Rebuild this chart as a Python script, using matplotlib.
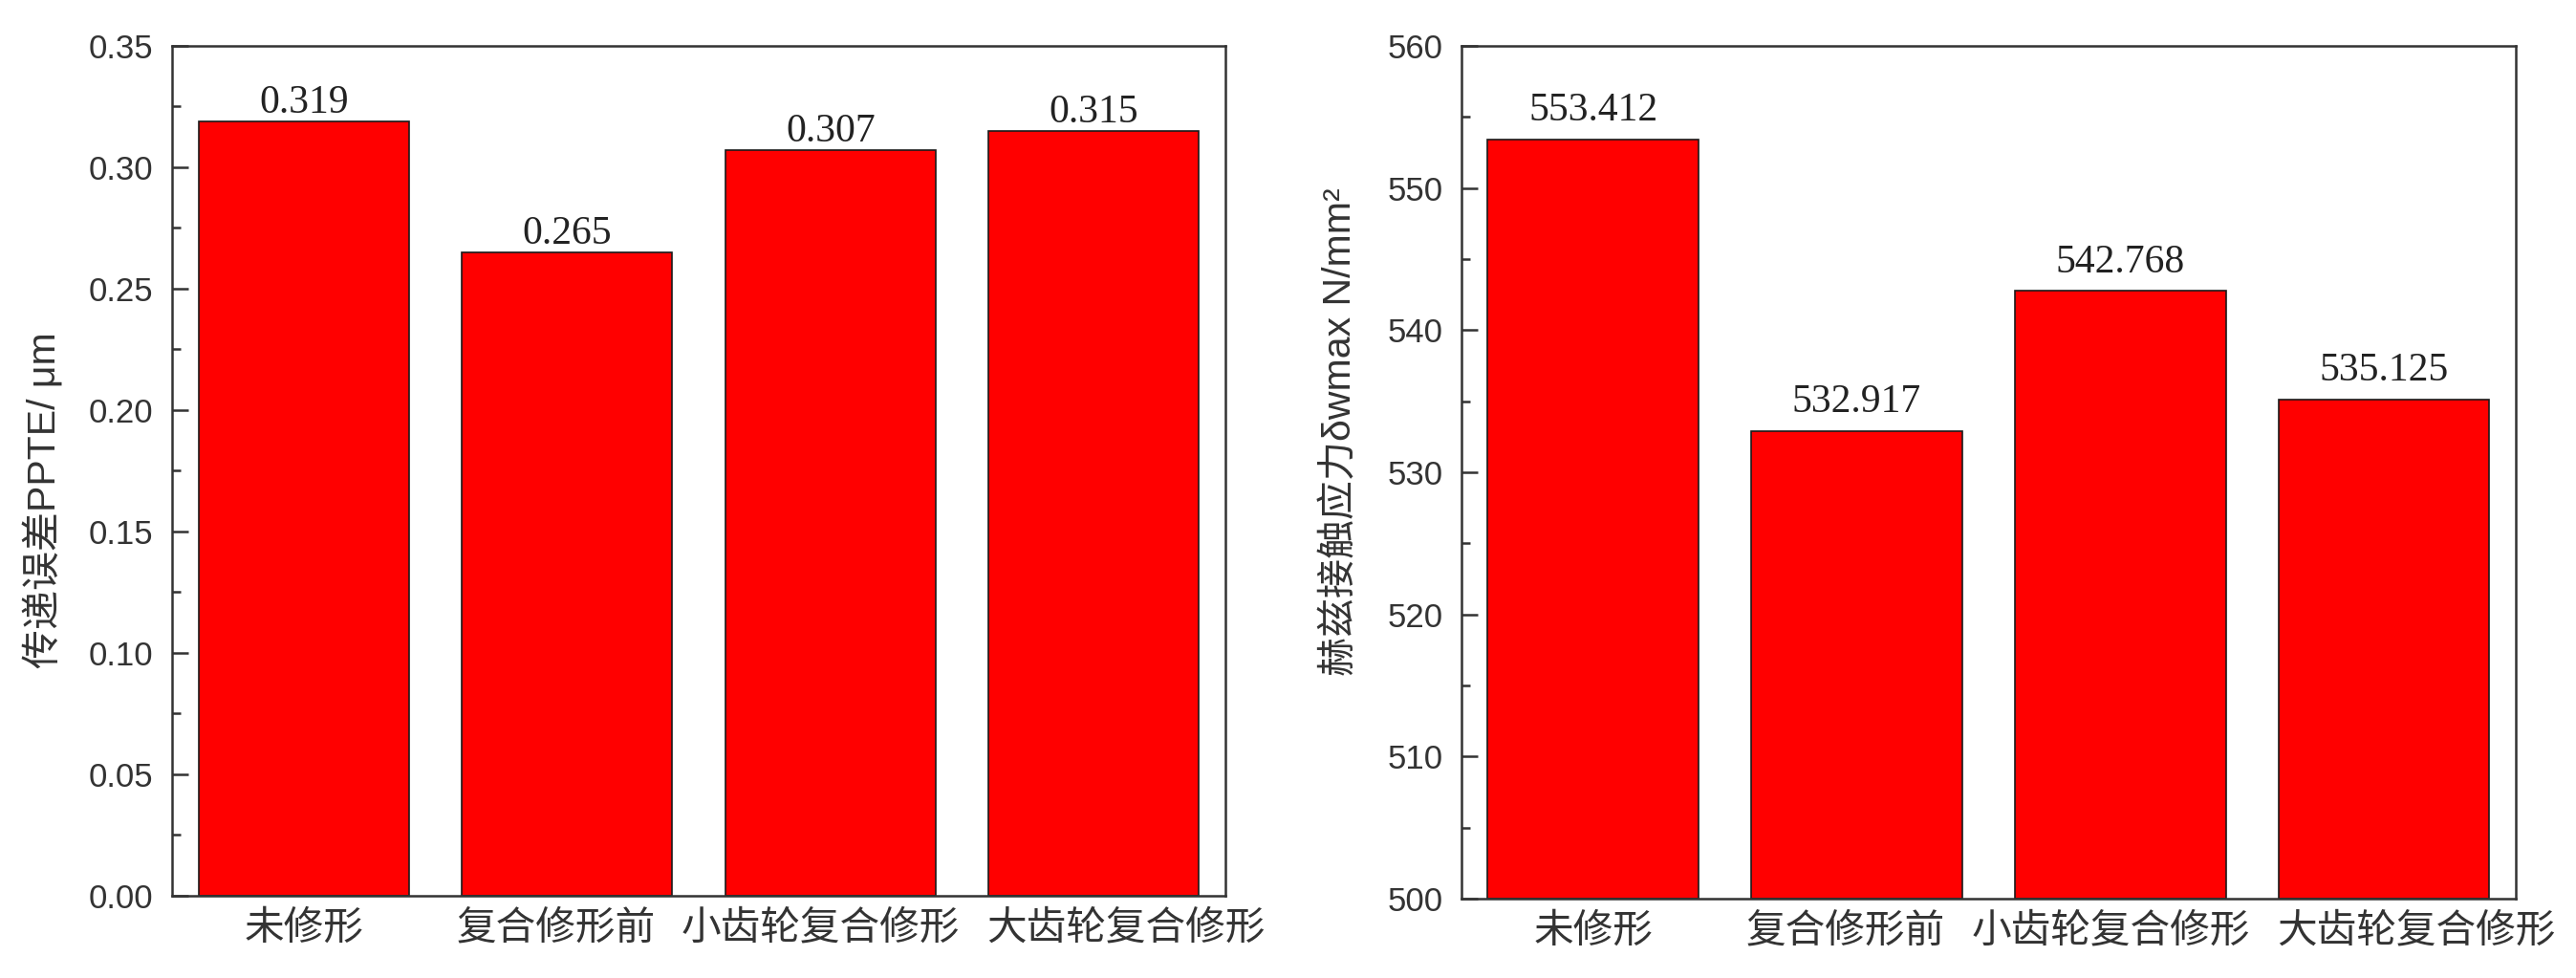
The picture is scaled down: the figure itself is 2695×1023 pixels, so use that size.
import matplotlib
matplotlib.use("Agg")
import matplotlib.pyplot as plt
import matplotlib.transforms as mtransforms
from matplotlib.ticker import MultipleLocator
import numpy as np

# ---- data ----
categories = ['未修形', '复合修形前', '小齿轮复合修形', '大齿轮复合修形']
ppte_values = [0.319, 0.265, 0.307, 0.315]
stress_values = [553.412, 532.917, 542.768, 535.125]

ppte_ylabel = '传递误差PPTE/ μm'
stress_ylabel = '赫兹接触应力δwmax N/mm²'

# ---- style ----
SANS = ['Liberation Sans', 'Noto Sans CJK SC', 'DejaVu Sans']
CJK = ['Noto Sans CJK SC', 'DejaVu Sans']
SERIF = ['Liberation Serif', 'DejaVu Serif']
AX_COLOR = '#333333'
label_shift_px = [0, -12, -10, 34]   # small nudges so long labels don't collide

fig = plt.figure(figsize=(26.95, 10.23), dpi=100)
ax1 = fig.add_axes([0.0668, 0.0841, 0.4089, 0.869])
ax2 = fig.add_axes([0.5673, 0.0811, 0.4093, 0.872])


def draw_panel(ax, values, ylim, major, minor, fmt, ylabel, val_offset, label_xy):
    x = np.arange(len(categories))
    ax.bar(x, np.array(values) - ylim[0], bottom=ylim[0], width=0.8,
           color='#ff0000', edgecolor='#1a1a1a', linewidth=1.2, zorder=2)
    ax.set_xlim(-0.5, len(categories) - 0.5)
    ax.set_ylim(*ylim)
    ax.yaxis.set_major_locator(MultipleLocator(major))
    ax.yaxis.set_minor_locator(MultipleLocator(minor))
    ax.yaxis.set_major_formatter(plt.FormatStrFormatter(fmt))

    for s in ax.spines.values():
        s.set_color(AX_COLOR)
        s.set_linewidth(1.8)

    ax.tick_params(axis='y', which='major', direction='in', length=12, width=1.8,
                   color=AX_COLOR, pad=14, labelsize=25, labelcolor='#333333')
    ax.tick_params(axis='y', which='minor', direction='in', length=6.5, width=1.8,
                   color=AX_COLOR)
    ax.tick_params(axis='x', length=0, pad=10)
    for lab in ax.get_yticklabels():
        lab.set_family(SANS)

    ax.set_xticks(x)
    ax.set_xticklabels(categories, fontsize=30, color='#333333', family=CJK)
    for lab, dx in zip(ax.get_xticklabels(), label_shift_px):
        lab.set_transform(lab.get_transform() +
                          mtransforms.ScaledTranslation(dx / 100, 0, fig.dpi_scale_trans))

    ax.set_ylabel(ylabel, fontsize=29.5, color='#333333', family=SANS)
    ax.yaxis.set_label_coords(*label_xy)

    for xi, v in zip(x, values):
        ax.annotate(f"{v:.3f}", xy=(xi, v), xytext=(0, val_offset),
                    textcoords='offset points', ha='center', va='baseline',
                    fontsize=30, family=SERIF, color='#222222')


draw_panel(ax1, ppte_values, (0.0, 0.35), 0.05, 0.025, '%.2f', ppte_ylabel, 6.5,
           (-0.103, 0.466))
draw_panel(ax2, stress_values, (500, 560), 10, 5, '%d', stress_ylabel, 14,
           (-0.097, 0.548))

fig.savefig('out.png', dpi=100, facecolor='white')
